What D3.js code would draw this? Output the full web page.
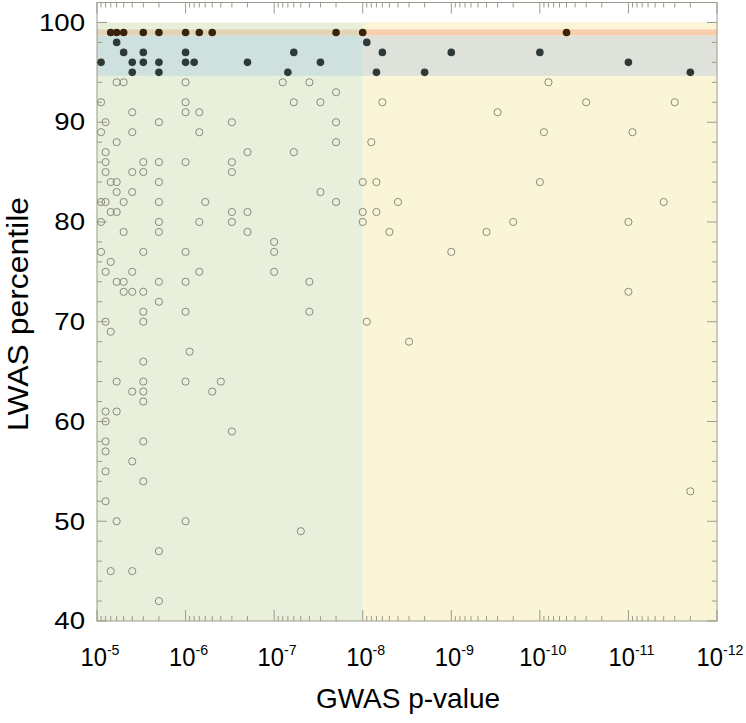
<!DOCTYPE html>
<html><head><meta charset="utf-8">
<script src="https://cdn.jsdelivr.net/npm/d3@7"></script>
<style>body{margin:0;background:#fff}svg{display:block}text{font-family:"Liberation Sans",Arial,sans-serif;fill:#000}</style>
</head><body><svg id="c" width="746" height="723"></svg>
<script>
// LWAS percentile = 99 (brown filled)
const topHits = [[7e-6,99],[6e-6,99],[5e-6,99],[3e-6,99],[2e-6,99],[1e-6,99],[7e-7,99],[5e-7,99],[2e-8,99],[1e-8,99],[5e-11,99]];
// LWAS percentile 95-98 (dark filled)
const hits = [[6e-6,98],[9e-9,98],
 [5e-6,97],[3e-6,97],[1e-6,97],[6e-8,97],[6e-9,97],[1e-9,97],[1e-10,97],
 [9e-6,96],[4e-6,96],[3e-6,96],[2e-6,96],[1e-6,96],[8e-7,96],[2e-7,96],[3e-8,96],[1e-11,96],
 [4e-6,95],[2e-6,95],[7e-8,95],[7e-9,95],[2e-9,95],[2e-12,95]];
// others (open circles)
const others = [
 [6e-6,94],[5e-6,94],[1e-6,94],[8e-8,94],[4e-8,94],[8e-11,94],
 [2e-8,93],
 [9e-6,92],[1e-6,92],[6e-8,92],[3e-8,92],[6e-9,92],[3e-11,92],[3e-12,92],
 [4e-6,91],[1e-6,91],[7e-7,91],[3e-10,91],
 [8e-6,90],[2e-6,90],[3e-7,90],[2e-8,90],
 [9e-6,89],[4e-6,89],[7e-7,89],[9e-11,89],[9e-12,89],
 [6e-6,88],[2e-8,88],[8e-9,88],
 [8e-6,87],[2e-7,87],[6e-8,87],
 [8e-6,86],[3e-6,86],[2e-6,86],[1e-6,86],[3e-7,86],
 [8e-6,85],[4e-6,85],[3e-6,85],[3e-7,85],
 [7e-6,84],[6e-6,84],[2e-6,84],[1e-8,84],[7e-9,84],[1e-10,84],
 [6e-6,83],[4e-6,83],[3e-8,83],
 [9e-6,82],[8e-6,82],[5e-6,82],[2e-6,82],[6e-7,82],[2e-8,82],[4e-9,82],[4e-12,82],
 [7e-6,81],[6e-6,81],[3e-7,81],[2e-7,81],[1e-8,81],[7e-9,81],
 [9e-6,80],[2e-6,80],[7e-7,80],[3e-7,80],[1e-8,80],[2e-10,80],[1e-11,80],
 [5e-6,79],[2e-6,79],[2e-7,79],[5e-9,79],[4e-10,79],
 [1e-7,78],
 [9e-6,77],[3e-6,77],[1e-6,77],[1e-7,77],[1e-9,77],
 [7e-6,76],
 [8e-6,75],[4e-6,75],[7e-7,75],[1e-7,75],
 [6e-6,74],[5e-6,74],[2e-6,74],[1e-6,74],[4e-8,74],
 [5e-6,73],[4e-6,73],[3e-6,73],[1e-11,73],
 [2e-6,72],
 [3e-6,71],[1e-6,71],[4e-8,71],
 [8e-6,70],[3e-6,70],[9e-9,70],
 [7e-6,69],[3e-9,68],[9e-7,67],[3e-6,66],
 [6e-6,64],[3e-6,64],[1e-6,64],[4e-7,64],
 [4e-6,63],[3e-6,63],[5e-7,63],
 [3e-6,62],[8e-6,61],[6e-6,61],[8e-6,60],[3e-7,59],
 [8e-6,58],[3e-6,58],[8e-6,57],[4e-6,56],[8e-6,55],[3e-6,54],[2e-12,53],[8e-6,52],
 [6e-6,50],[1e-6,50],[5e-8,49],[2e-6,47],[7e-6,45],[4e-6,45],[2e-6,42]];
const xMajor = [1e-5,1e-6,1e-7,1e-8,1e-9,1e-10,1e-11,1e-12];
const yTicks = [40,50,60,70,80,90,100];

const svg = d3.select("#c");
const L=97, R=717, T=2.5, B=621;
const x = d3.scaleLog().domain([1e-5,1e-12]).range([L,R]);
const y = d3.scaleLinear().domain([40,102]).range([B,T]);

// backgrounds
const bg = [
 {x0:1e-5,x1:1e-8,y0:40,y1:100,c:"#e8f0dc"},
 {x0:1e-8,x1:1e-12,y0:40,y1:100,c:"#fbf5d8"},
 {x0:1e-5,x1:1e-8,y0:94.65,y1:98.7,c:"#cfe1df"},
 {x0:1e-8,x1:1e-12,y0:94.65,y1:98.7,c:"#dfe2db"},
 {x0:1e-5,x1:1e-8,y0:98.7,y1:99.3,c:"#e2d5b6"},
 {x0:1e-8,x1:1e-12,y0:98.7,y1:99.3,c:"#f8ceac"}];
svg.selectAll("rect.bg").data(bg).join("rect").attr("class","bg")
 .attr("x",d=>x(d.x0)).attr("width",d=>x(d.x1)-x(d.x0))
 .attr("y",d=>y(d.y1)).attr("height",d=>y(d.y0)-y(d.y1)).attr("fill",d=>d.c);

// log ticks
const minor=[];
for(let e=-5;e>-12;e--){ for(let k=2;k<=9;k++) minor.push(k*Math.pow(10,e-1)); }
const axc="#9c9a8c";
const g=svg.append("g").attr("stroke",axc).attr("stroke-width",1).attr("fill","none");
const tickLine=(x1,y1,x2,y2)=>g.append("line").attr("x1",x1).attr("y1",y1).attr("x2",x2).attr("y2",y2);
xMajor.forEach(v=>{tickLine(x(v),B,x(v),B-11);tickLine(x(v),T,x(v),T+11);});
minor.forEach(v=>{tickLine(x(v),B,x(v),B-5);tickLine(x(v),T,x(v),T+5);});
d3.range(40,103,2).forEach(v=>{const len = v%10===0?10:5; tickLine(L,y(v),L+len,y(v)); tickLine(R,y(v),R-len,y(v));});
g.append("rect").attr("x",L).attr("y",T).attr("width",R-L).attr("height",B-T);

// points
svg.append("g").selectAll("circle").data(others).join("circle")
 .attr("cx",d=>x(d[0])).attr("cy",d=>y(d[1])).attr("r",3.6)
 .attr("fill","none").attr("stroke","#8a8a7c").attr("stroke-width",1);
svg.append("g").selectAll("circle").data(hits).join("circle")
 .attr("cx",d=>x(d[0])).attr("cy",d=>y(d[1])).attr("r",3.8).attr("fill","#2e3a37");
svg.append("g").selectAll("circle").data(topHits).join("circle")
 .attr("cx",d=>x(d[0])).attr("cy",d=>y(d[1])).attr("r",3.8).attr("fill","#3b220c");

// y tick labels
svg.append("g").selectAll("text").data(yTicks).join("text")
 .attr("transform",d=>`translate(85,${y(d)}) scale(1.2,1)`).attr("dy","0.36em").attr("text-anchor","end")
 .attr("font-size",23).text(d=>d);
// x tick labels
const xl = svg.append("g").selectAll("text").data(xMajor).join("text")
 .attr("transform",d=>`translate(${x(d)+3},666) scale(0.95,1)`).attr("text-anchor","middle").attr("font-size",25);
xl.append("tspan").text("10");
xl.append("tspan").attr("dy",-11).attr("font-size",15).text(d=>Math.round(Math.log10(d)));

svg.append("text").attr("x",408).attr("y",708).attr("text-anchor","middle").attr("font-size",28).text("GWAS p-value");
svg.append("text").attr("transform","translate(28,314) rotate(-90) scale(1.1,1)").attr("text-anchor","middle").attr("font-size",29).text("LWAS percentile");
</script></body></html>
